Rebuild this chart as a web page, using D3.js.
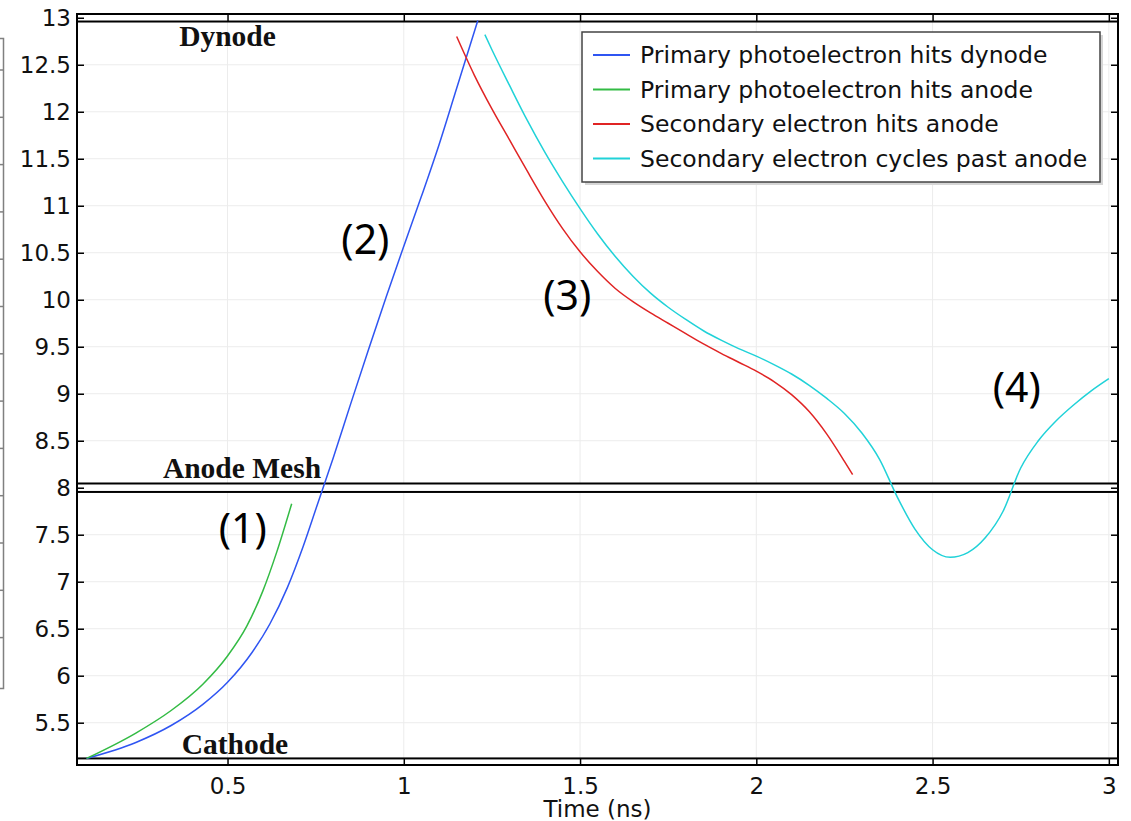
<!DOCTYPE html>
<html>
<head>
<meta charset="utf-8">
<script src="https://cdn.jsdelivr.net/npm/d3@7"></script>
<style>
  html, body { margin: 0; padding: 0; background: #fff; }
  svg { display: block; }
</style>
</head>
<body>
<svg id="chart" width="1131" height="821"></svg>
<script>
// ---------------- data ----------------
const seriesNames = [
  "Primary photoelectron hits dynode",
  "Primary photoelectron hits anode",
  "Secondary electron hits anode",
  "Secondary electron cycles past anode"
];
const seriesColors = ["#2f55f2", "#33bb44", "#e02424", "#20d2d8"];

const blueT = [0.10,0.24,0.34,0.43,0.50,0.57,0.62,0.67,0.715,0.753,0.80,0.85,0.90,0.95,1.00,1.05,1.10,1.15,1.21];
const blueV = [5.12,5.29,5.47,5.695,5.93,6.25,6.55,6.94,7.38,7.80,8.32,8.90,9.47,10.03,10.57,11.10,11.65,12.25,12.97];

const greenT = [0.10,0.24,0.34,0.43,0.50,0.555,0.60,0.64,0.682];
const greenV = [5.12,5.39,5.63,5.91,6.21,6.53,6.90,7.32,7.83];

const redT = [1.15,1.20,1.25,1.30,1.35,1.40,1.45,1.50,1.55,1.60,1.65,1.70,1.75,1.80,1.85,1.90,1.95,2.00,2.05,2.10,2.15,2.20,2.25,2.273];
const redV = [12.80,12.39,12.03,11.70,11.37,11.05,10.76,10.51,10.30,10.12,9.98,9.86,9.75,9.64,9.53,9.43,9.335,9.24,9.13,8.99,8.81,8.57,8.28,8.14];

const cyanT = [1.23,1.25,1.30,1.35,1.40,1.45,1.50,1.55,1.60,1.65,1.70,1.75,1.80,1.85,1.90,1.95,2.00,2.05,2.10,2.15,2.20,2.25,2.30,2.35,2.40,2.45,2.50,2.55,2.60,2.65,2.70,2.75,2.80,2.85,2.90,2.95,3.00];
const cyanV = [12.82,12.66,12.28,11.91,11.57,11.26,10.97,10.70,10.46,10.25,10.07,9.92,9.79,9.67,9.57,9.48,9.40,9.31,9.21,9.09,8.95,8.79,8.58,8.30,7.90,7.56,7.34,7.26,7.31,7.47,7.75,8.21,8.50,8.71,8.88,9.03,9.16];

const xTickValues = [0.5, 1, 1.5, 2, 2.5, 3];
const xTickLabels = ["0.5", "1", "1.5", "2", "2.5", "3"];
const yTickValues = [5.5, 6, 6.5, 7, 7.5, 8, 8.5, 9, 9.5, 10, 10.5, 11, 11.5, 12, 12.5, 13];
const yTickLabels = ["5.5","6","6.5","7","7.5","8","8.5","9","9.5","10","10.5","11","11.5","12","12.5","13"];

// electrode boundaries (low, high) and their labels
const boundaryNames = ["Dynode", "Anode Mesh", "Cathode"];
const boundaryLow  = [12.96, 7.955, 5.05];
const boundaryHigh = [13.04, 8.045, 5.12];
const boundaryLabelT = [0.50, 0.541, 0.521];
const boundaryLabelV = [12.70, 8.10, 5.17];

// stage annotations
const stageLabels = ["(1)", "(2)", "(3)", "(4)"];
const stageT = [0.543, 0.891, 1.464, 2.739];
const stageV = [7.53, 10.61, 10.01, 9.03];

const xTitle = "Time (ns)";

// ---------------- drawing ----------------
const svg = d3.select("#chart");
const x = d3.scaleLinear().domain([0.073, 3.026]).range([77, 1118]);
const y = d3.scaleLinear().domain([5.05, 13.04]).range([765, 14]);
const [x0, x1] = x.range();
const [yb, yt] = y.range();

// fragment of a neighbouring panel at far left
const frag = svg.append("g").attr("stroke", "#808080").attr("stroke-width", 1.5).attr("fill", "none");
frag.append("path").attr("d", "M0,38.5H3.5V688.5H0");
const fragScale = d3.scaleLinear().domain([0, 12]).range([70, 637.6]);
frag.selectAll("line.ft").data(d3.range(0, 13)).join("line")
  .attr("x1", 0).attr("x2", 3.5)
  .attr("y1", d => fragScale(d)).attr("y2", d => fragScale(d));

// grid
const grid = svg.append("g").attr("stroke", "#ececec").attr("stroke-width", 1);
grid.selectAll("line.gx").data(xTickValues).join("line")
  .attr("x1", d => x(d)).attr("x2", d => x(d)).attr("y1", yt).attr("y2", yb);
grid.selectAll("line.gy").data(yTickValues).join("line")
  .attr("x1", x0).attr("x2", x1).attr("y1", d => y(d)).attr("y2", d => y(d));

// electrode rectangles
svg.append("g").selectAll("rect").data(boundaryNames).join("rect")
  .attr("x", x0).attr("width", x1 - x0)
  .attr("y", (d, i) => y(boundaryHigh[i]))
  .attr("height", (d, i) => y(boundaryLow[i]) - y(boundaryHigh[i]))
  .attr("fill", "#fff").attr("stroke", "#000").attr("stroke-width", 2);

// curves
const allSeries = [
  [blueT, blueV], [greenT, greenV], [redT, redV], [cyanT, cyanV]
];
const line = d3.line().x(d => x(d[0])).y(d => y(d[1])).curve(d3.curveMonotoneX);
svg.append("g").selectAll("path").data(allSeries).join("path")
  .attr("d", s => line(s[0].map((t, i) => [t, s[1][i]])))
  .attr("fill", "none")
  .attr("stroke", (s, i) => seriesColors[i])
  .attr("stroke-width", 1.5);

// axes (inward ticks)
const fmtX = d => xTickLabels[xTickValues.indexOf(d)];
const fmtY = d => yTickLabels[yTickValues.indexOf(d)];
const axFont = "DejaVu Sans";

const gL = svg.append("g").attr("transform", `translate(${x0},0)`)
  .call(d3.axisLeft(y).tickValues(yTickValues).tickFormat(fmtY).tickSize(-7).tickPadding(6));
const gR = svg.append("g").attr("transform", `translate(${x1},0)`)
  .call(d3.axisRight(y).tickValues(yTickValues).tickFormat("").tickSize(-7));
const gT = svg.append("g").attr("transform", `translate(0,${yt})`)
  .call(d3.axisTop(x).tickValues(xTickValues).tickFormat("").tickSize(-7));
const gB = svg.append("g").attr("transform", `translate(0,${yb})`)
  .call(d3.axisBottom(x).tickValues(xTickValues).tickFormat(fmtX).tickSize(-7).tickPadding(13));
[gL, gR, gT, gB].forEach(g => {
  g.select(".domain").remove();
  g.selectAll(".tick line").attr("stroke", "#000").attr("stroke-width", 1.5);
  g.selectAll(".tick text").attr("fill", "#111").style("font-family", axFont).style("font-size", "23px");
});

// frame
svg.append("rect").attr("x", x0).attr("y", yt).attr("width", x1 - x0).attr("height", yb - yt)
  .attr("fill", "none").attr("stroke", "#000").attr("stroke-width", 2);

// x title
svg.append("text").attr("x", (x0 + x1) / 2).attr("y", 817)
  .attr("text-anchor", "middle").attr("fill", "#111")
  .style("font-family", axFont).style("font-size", "23px").text(xTitle);

// boundary labels
svg.append("g").selectAll("text").data(boundaryNames).join("text")
  .attr("x", (d, i) => x(boundaryLabelT[i]))
  .attr("y", (d, i) => y(boundaryLabelV[i]))
  .attr("text-anchor", "middle")
  .style("font-family", "Liberation Serif").style("font-weight", "bold").style("font-size", "29.5px")
  .attr("fill", "#111")
  .text(d => d);

// stage labels
svg.append("g").selectAll("text").data(stageLabels).join("text")
  .attr("x", (d, i) => x(stageT[i]))
  .attr("y", (d, i) => y(stageV[i]))
  .attr("dy", "0.28em")
  .attr("text-anchor", "middle")
  .style("font-family", "Noto Sans").style("font-size", "41px")
  .attr("fill", "#000")
  .text(d => d);

// legend
const lg = svg.append("g");
lg.append("rect").attr("x", 585).attr("y", 35).attr("width", 518).attr("height", 150).attr("fill", "#d6d6d6");
lg.append("rect").attr("x", 582).attr("y", 32).attr("width", 518).attr("height", 150)
  .attr("fill", "#fff").attr("stroke", "#444").attr("stroke-width", 1.5);
const items = lg.selectAll("g.item").data(seriesNames).join("g")
  .attr("transform", (d, i) => `translate(0,${55 + i * 34.5})`);
items.append("line").attr("x1", 593).attr("x2", 630).attr("y1", 0).attr("y2", 0)
  .attr("stroke", (d, i) => seriesColors[i]).attr("stroke-width", 2);
items.append("text").attr("x", 640).attr("y", 0).attr("dy", "0.36em")
  .style("font-family", axFont).style("font-size", "23.5px").attr("fill", "#111")
  .text(d => d);
</script>
</body>
</html>
